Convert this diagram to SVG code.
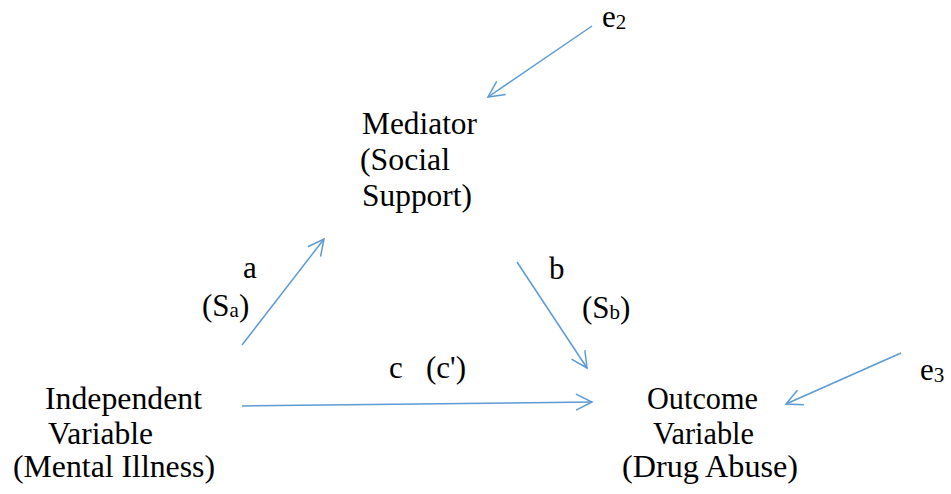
<svg xmlns="http://www.w3.org/2000/svg" width="951" height="494" viewBox="0 0 951 494">
<style>
text{font-family:"Liberation Serif","Times New Roman",serif;font-size:31px;fill:#000}
.sub{font-size:21px}
.c{stroke:#5B9BD5;stroke-width:1.5;fill:none}
</style>
<defs>
<marker id="ah" markerUnits="userSpaceOnUse" markerWidth="20" markerHeight="20" refX="17" refY="9" orient="auto">
<path d="M1,1 L17,9 L1,17" fill="none" stroke="#5B9BD5" stroke-width="1.5"/>
</marker>
</defs>
<rect width="951" height="494" fill="#fff"/>
<g id="connectors">
<line class="c" x1="592" y1="26" x2="488" y2="97" marker-end="url(#ah)"/>
<line class="c" x1="242" y1="345" x2="324" y2="239" marker-end="url(#ah)"/>
<line class="c" x1="517" y1="262" x2="587" y2="368" marker-end="url(#ah)"/>
<line class="c" x1="242" y1="406" x2="592" y2="402" marker-end="url(#ah)"/>
<line class="c" x1="901" y1="353" x2="786" y2="404" marker-end="url(#ah)"/>
</g>
<g id="mediator">
<text x="362" y="134" textLength="115" lengthAdjust="spacingAndGlyphs">Mediator</text>
<text x="360" y="170" textLength="90" lengthAdjust="spacingAndGlyphs">(Social</text>
<text x="362" y="206" textLength="110" lengthAdjust="spacingAndGlyphs">Support)</text>
</g>
<g id="independent">
<text x="45" y="409" textLength="157" lengthAdjust="spacingAndGlyphs">Independent</text>
<text x="48" y="444" textLength="105" lengthAdjust="spacingAndGlyphs">Variable</text>
<text x="13" y="477" textLength="202" lengthAdjust="spacingAndGlyphs">(Mental Illness)</text>
</g>
<g id="outcome">
<text x="647" y="409" textLength="111" lengthAdjust="spacingAndGlyphs">Outcome</text>
<text x="653" y="444" textLength="101" lengthAdjust="spacingAndGlyphs">Variable</text>
<text x="622" y="477" textLength="176" lengthAdjust="spacingAndGlyphs">(Drug Abuse)</text>
</g>
<g id="e2">
<text x="602" y="27">e<tspan class="sub" dy="2">2</tspan></text>
</g>
<g id="e3">
<text x="920" y="380">e<tspan class="sub" dy="2">3</tspan></text>
</g>
<g id="labels">
<text x="243" y="278">a</text>
<text x="202" y="316">(S<tspan class="sub" dy="1">a</tspan><tspan dy="-1">)</tspan></text>
<text x="549" y="279">b</text>
<text x="582" y="318">(S<tspan class="sub" dy="1">b</tspan><tspan dy="-1">)</tspan></text>
<text x="389" y="378" xml:space="preserve">c   (c')</text>
</g>
</svg>
